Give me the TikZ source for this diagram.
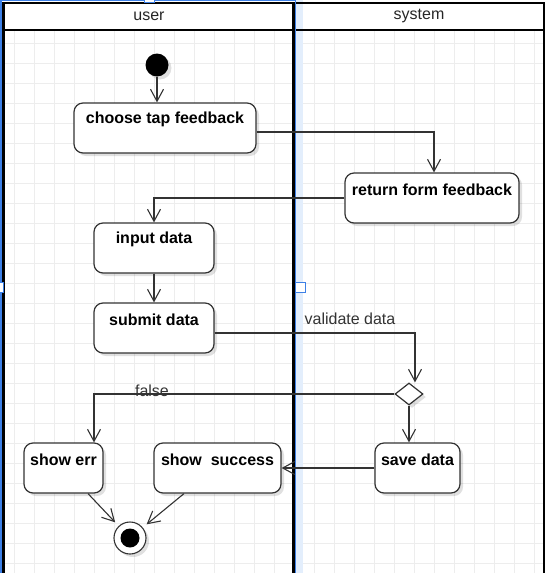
\documentclass[tikz,border=0pt]{standalone}
\usepackage{fontspec}
\setmainfont{Liberation Sans}
\usetikzlibrary{arrows.meta,shapes.geometric,shadows,calc}
\definecolor{ln}{HTML}{333333}
\definecolor{gridc}{HTML}{EDEDED}
\definecolor{selb}{HTML}{3D80E6}
\definecolor{sellt}{HTML}{E3EEFC}
\begin{document}
\begin{tikzpicture}[x=1pt,y=-1pt,
  shd/.style={drop shadow={shadow xshift=3pt,shadow yshift=-3pt,opacity=0.12,fill=black}},
  act/.style={draw=ln,line width=1.2pt,rounded corners=9pt,fill=white,shd,minimum height=50pt,inner sep=0pt},
  lbl/.style={font=\fontsize{16pt}{19pt}\selectfont\bfseries,text=black},
  plain/.style={font=\fontsize{16pt}{19pt}\selectfont,text=ln,inner sep=0pt},
  flow/.style={draw=ln,line width=1.1pt,-{Straight Barb[length=12pt,width=13pt,line width=1.1pt]}},
  lane/.style={draw=black,line width=2.2pt},
  handle/.style={draw=selb,fill=white,line width=1pt}
]
\useasboundingbox (0,0) rectangle (547,573);
\clip (0,0) rectangle (547,573);
% grid
\begin{scope}
\clip (4,30) rectangle (544,580);
\foreach \x in {14,34,...,554} \draw[gridc,line width=1pt] (\x,30) -- (\x,580);
\foreach \y in {43,63,...,583} \draw[gridc,line width=1pt] (4,\y) -- (544,\y);
\end{scope}
% selection strip
\fill[sellt] (296,0) rectangle (303,580);
% pool and lanes
\draw[lane] (3.5,3) -- (544,3);
\draw[lane] (3.5,30) -- (544,30);
\draw[lane] (3.5,2) -- (3.5,580);
\draw[lane] (293.5,2) -- (293.5,580);
\draw[lane] (544,2) -- (544,580);
% selection outline
\draw[selb,line width=1.2pt] (1,580) -- (1,0.6) -- (295.5,0.6) -- (295.5,580);
\node[plain,text=black!85] (hu) at (149,16) {user};
\node[plain,text=black!85] (hs) at (419,16) {system};
% nodes
\node[circle,fill=black,minimum size=23pt,inner sep=0pt,shd] (start) at (157,65) {};
\node[act,minimum width=182pt,label={[lbl,anchor=center,yshift=-17pt]north:choose tap feedback}] (choose) at (165,128) {};
\node[act,minimum width=174pt,label={[lbl,anchor=center,yshift=-17pt]north:return form feedback}] (ret) at (432,198) {};
\node[act,minimum width=120pt,label={[lbl,anchor=center,yshift=-17pt]north:input data}] (input) at (154,248) {};
\node[act,minimum width=120pt,label={[lbl,anchor=center,yshift=-17pt]north:submit data}] (submit) at (154,328) {};
\node[diamond,draw=ln,line width=1.2pt,fill=white,shd,minimum width=28pt,minimum height=22pt,inner sep=0pt] (dia) at (409,394) {};
\node[act,minimum width=85pt,label={[lbl,anchor=center,yshift=-17pt]north:save data}] (save) at (417.5,468) {};
\node[act,minimum width=79pt,label={[lbl,anchor=center,yshift=-17pt]north:show err}] (err) at (63.5,468) {};
\node[act,minimum width=127pt,label={[lbl,anchor=center,yshift=-17pt]north:show~ success}] (succ) at (217.5,468) {};
\node[circle,draw=ln,line width=1.1pt,fill=white,minimum size=32pt,inner sep=0pt,shd] (end) at (130,538) {};
\node[circle,fill=black,minimum size=19pt,inner sep=0pt] (endin) at (end) {};
% edges
\draw[flow] (start) -- (start |- choose.north);
\draw[flow] ([yshift=-4pt]choose.east) -| ([xshift=2pt]ret.north);
\draw[flow] (ret.west) -| (input.north);
\draw[flow] (input) -- (submit);
\draw[flow] ([yshift=-5pt]submit.east) -| ([xshift=6pt]dia.north);
\node[plain] (vd) at (350,319) {validate data};
\draw[flow] (dia.west) -| ([xshift=30.5pt]err.north);
\node[plain] (fl) at (152,391) {false};
\draw[flow] (dia.south) -- (dia.south |- save.north);
\draw[flow] (save.west) -- (succ.east);
\draw[flow,shorten >=5pt] ([xshift=24.5pt]err.south) -- (end);
\draw[flow,shorten >=5pt] ([xshift=-33.5pt]succ.south) -- (end);
% selection handles
\draw[handle] (295,282) rectangle (305,292);
\draw[handle] (-7,282) rectangle (3,292);
\draw[handle] (144,-8) rectangle (154,2);
\end{tikzpicture}
\end{document}
